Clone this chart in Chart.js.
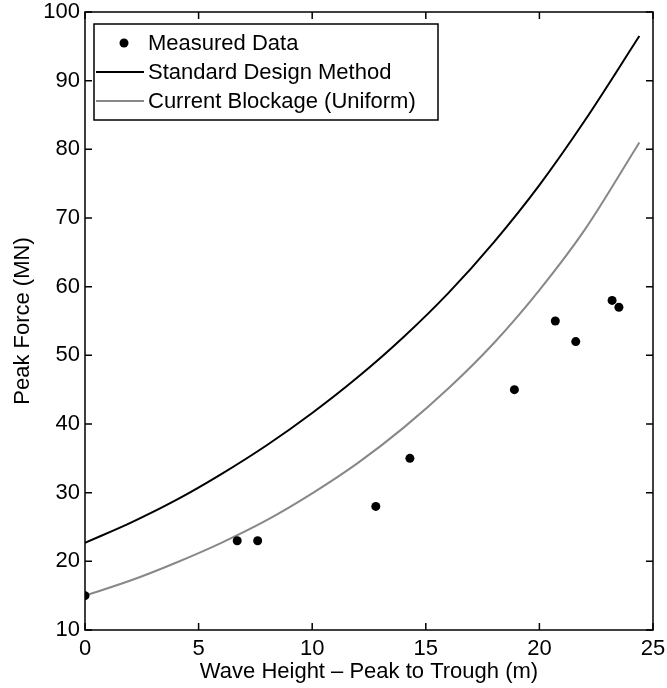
<!DOCTYPE html>
<html>
<head>
<meta charset="utf-8">
<script src="https://cdn.jsdelivr.net/npm/chart.js@4"></script>
<style>
  html, body { margin: 0; padding: 0; background: #fff; }
  #wrap { width: 667px; height: 688px; }
</style>
</head>
<body>
<div id="wrap"><canvas id="myChart" width="667" height="688"></canvas></div>
<script>
const measuredX = [0, 6.7, 7.6, 12.8, 14.3, 18.9, 20.7, 21.6, 23.2, 23.5]
const measuredY = [15, 23, 23, 28, 35, 45, 55, 52, 58, 57]

const curveX = [0, 2, 4, 6, 8, 10, 12, 14, 16, 18, 20, 22, 24.4]
const standardY = [22.7, 25.6, 28.9, 32.7, 36.9, 41.6, 46.8, 52.6, 59.1, 66.5, 74.8, 84.2, 96.5]
const blockageY = [15, 17.2, 19.8, 22.7, 26, 29.9, 34.3, 39.4, 45.2, 51.8, 59.5, 68.3, 81]

const xTicks = [0, 5, 10, 15, 20, 25]
const yTicks = [10, 20, 30, 40, 50, 60, 70, 80, 90, 100]

const FONT = '"Liberation Sans", Arial, Helvetica, sans-serif'
const toPoints = (xs, ys) => xs.map((x, i) => ({ x, y: ys[i] }))

// box round the axes plus inward tick marks on all four sides
const frame = {
  id: 'frame',
  afterDatasetsDraw (chart) {
    const { ctx, chartArea: a, scales: { x, y } } = chart
    const len = 7
    ctx.save()
    ctx.strokeStyle = '#000'
    ctx.lineWidth = 1.5
    ctx.strokeRect(a.left, a.top, a.right - a.left, a.bottom - a.top)
    ctx.beginPath()
    xTicks.forEach(v => {
      const px = x.getPixelForValue(v)
      ctx.moveTo(px, a.bottom); ctx.lineTo(px, a.bottom - len)
      ctx.moveTo(px, a.top); ctx.lineTo(px, a.top + len)
    })
    yTicks.forEach(v => {
      const py = y.getPixelForValue(v)
      ctx.moveTo(a.left, py); ctx.lineTo(a.left + len, py)
      ctx.moveTo(a.right, py); ctx.lineTo(a.right - len, py)
    })
    ctx.stroke()
    ctx.restore()
  }
}

// matlab-like legend box in the upper left corner
const boxLegend = {
  id: 'boxLegend',
  afterDraw (chart) {
    const { ctx, chartArea: a } = chart
    const left = a.left + 9
    const top = a.top + 12
    const rowH = 29
    const w = 344
    const h = rowH * 3 + 9
    ctx.save()
    ctx.fillStyle = '#fff'
    ctx.fillRect(left, top, w, h)
    ctx.strokeStyle = '#000'
    ctx.lineWidth = 1.5
    ctx.strokeRect(left, top, w, h)
    ctx.font = '22px ' + FONT
    ctx.textBaseline = 'middle'
    chart.data.datasets.forEach((ds, i) => {
      const cy = top + 19 + i * rowH
      if (ds.showLine) {
        ctx.strokeStyle = ds.borderColor
        ctx.lineWidth = 2
        ctx.beginPath()
        ctx.moveTo(left + 2, cy)
        ctx.lineTo(left + 50, cy)
        ctx.stroke()
      } else {
        ctx.fillStyle = ds.backgroundColor
        ctx.beginPath()
        ctx.arc(left + 30, cy, 4.5, 0, Math.PI * 2)
        ctx.fill()
      }
      ctx.fillStyle = '#000'
      ctx.fillText(ds.label, left + 54, cy + 1)
    })
    ctx.restore()
  }
}

const ctx = document.getElementById('myChart').getContext('2d')
new Chart(ctx, {
  type: 'scatter',
  data: {
    datasets: [
      {
        label: 'Measured Data',
        data: toPoints(measuredX, measuredY),
        showLine: false,
        pointRadius: 4.5,
        backgroundColor: '#000',
        borderColor: '#000',
        borderWidth: 0
      },
      {
        label: 'Standard Design Method',
        data: toPoints(curveX, standardY),
        showLine: true,
        pointRadius: 0,
        borderColor: '#000',
        borderWidth: 2,
        cubicInterpolationMode: 'monotone'
      },
      {
        label: 'Current Blockage (Uniform)',
        data: toPoints(curveX, blockageY),
        showLine: true,
        pointRadius: 0,
        borderColor: '#888888',
        borderWidth: 2,
        cubicInterpolationMode: 'monotone'
      }
    ]
  },
  options: {
    responsive: false,
    animation: false,
    layout: { padding: { top: 12, right: 14, left: 0, bottom: 0 } },
    plugins: {
      legend: { display: false },
      tooltip: { enabled: false }
    },
    scales: {
      x: {
        type: 'linear',
        min: 0,
        max: 25,
        grid: { display: false, drawTicks: false },
        border: { display: false },
        afterBuildTicks: s => { s.ticks = xTicks.map(v => ({ value: v })) },
        afterFit: s => { s.height = 58; s.paddingLeft = 0; s.paddingRight = 0 },
        ticks: { color: '#000', font: { size: 22, family: FONT }, padding: 6, maxRotation: 0 },
        title: { display: true, text: 'Wave Height \u2013 Peak to Trough (m)', color: '#000', font: { size: 22, family: FONT }, padding: { top: 0, bottom: 3 } }
      },
      y: {
        type: 'linear',
        min: 10,
        max: 100,
        grid: { display: false, drawTicks: false },
        border: { display: false },
        afterBuildTicks: s => { s.ticks = yTicks.map(v => ({ value: v })) },
        afterFit: s => { s.width = 85; s.paddingTop = 0; s.paddingBottom = 0 },
        ticks: { color: '#000', font: { size: 22, family: FONT }, padding: 5 },
        title: { display: true, text: 'Peak Force (MN)', color: '#000', font: { size: 22, family: FONT }, padding: { top: 10, bottom: 0 } }
      }
    }
  },
  plugins: [frame, boxLegend]
})
</script>
</body>
</html>
